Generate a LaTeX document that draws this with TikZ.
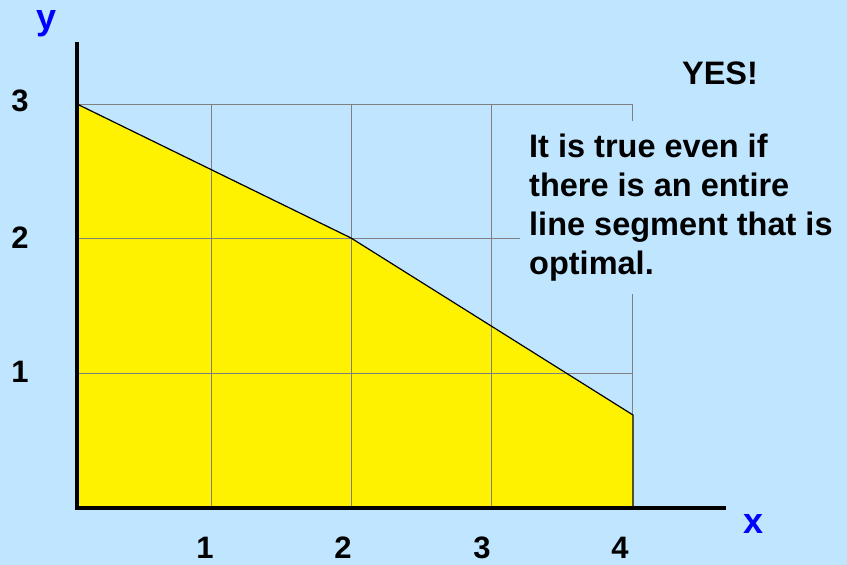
\documentclass[tikz,border=0pt]{standalone}
\usepackage{fontspec}
\setmainfont{Liberation Sans}
\definecolor{bg}{RGB}{192,230,255}
\definecolor{axisblue}{RGB}{0,0,255}
\definecolor{gridgray}{RGB}{128,128,128}
\tikzset{
  gridline/.style={gridgray, line width=1pt},
  axisline/.style={black, line width=4pt},
  ticklbl/.style={font=\fontsize{31}{32}\selectfont\bfseries, inner sep=0pt},
  axislbl/.style={font=\fontsize{36}{36}\selectfont\bfseries, text=axisblue, inner sep=0pt},
  note/.style={font=\fontsize{32.5}{39}\selectfont\bfseries, align=left, fill=bg, anchor=north west, inner xsep=9pt, inner ysep=13pt}
}
\begin{document}
\begin{tikzpicture}[x=1pt,y=-1pt]
\useasboundingbox (0,0) rectangle (847,565);
\fill[bg] (0,0) rectangle (847,565);
% corners
\coordinate (O) at (77,508);
\coordinate (A) at (77,104);
\coordinate (B) at (351,238);
\coordinate (C) at (633,415);
\coordinate (D) at (633,508);
\fill[yellow] (O) -- (A) -- (B) -- (C) -- (D) -- cycle;
% grid
\draw[gridline] (77,104) -- (632,104);
\draw[gridline] (77,238) -- (632,238);
\draw[gridline] (77,373) -- (632,373);
\draw[gridline] (211,104) -- (211,508);
\draw[gridline] (351,104) -- (351,508);
\draw[gridline] (491,104) -- (491,508);
\draw[gridline] (632,104) -- (632,415);
% boundary
\draw[black, line width=1.2pt] (A) -- (B) -- (C) -- (D);
% note
\node[note] (txt) at (520,121) {It is true even if\\there is an entire\\line segment that is\\optimal.};
\node[font=\fontsize{32.5}{33}\selectfont\bfseries, inner sep=0pt] (yes) at (720,73) {YES!};
% axes
\coordinate (ytop) at (77,42);
\coordinate (ybot) at (77,510);
\coordinate (xl) at (75,508);
\coordinate (xr) at (726,508);
\draw[axisline] (ybot) -- (ytop);
\draw[axisline] (xl) -- (xr);
% axis labels
\node[axislbl] (ylbl) at (47,24) {y};
\node[axislbl] (xlbl) at (754,524) {x};
% ticks
\node[ticklbl] (y3) at (20,101) {3};
\node[ticklbl] (y2) at (20,238) {2};
\node[ticklbl] (y1) at (20,372) {1};
\node[ticklbl] (x1) at (205,548) {1};
\node[ticklbl] (x2) at (343,548) {2};
\node[ticklbl] (x3) at (482,548) {3};
\node[ticklbl] (x4) at (620,548) {4};
\end{tikzpicture}
\end{document}
